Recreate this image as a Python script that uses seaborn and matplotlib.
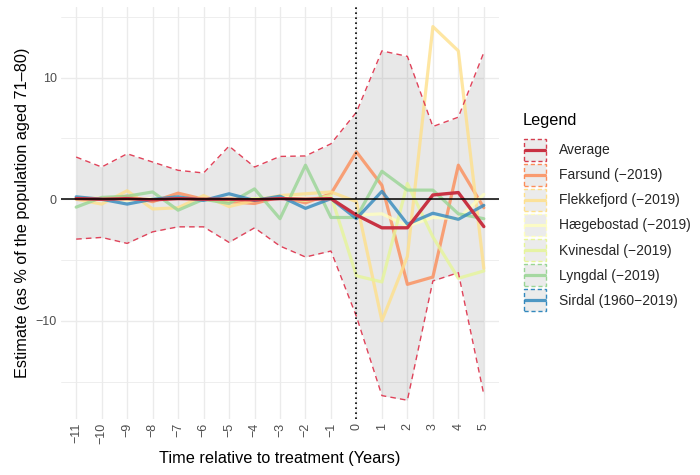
import matplotlib
matplotlib.use("Agg")
import matplotlib.pyplot as plt
from matplotlib.patches import Rectangle
from matplotlib.lines import Line2D
import seaborn as sns
import pandas as pd

# Event-time estimates (% of the population aged 71-80)
years = list(range(-11, 6))
farsund = [0.1, 0.0, 0.25, -0.2, 0.5, 0.0, -0.2, -0.35, 0.2, -0.3, 0.45, 3.9, 1.15, -7.0, -6.4, 2.8, -0.7]
flekkefjord = [0.0, -0.4, 0.7, -0.8, -0.7, 0.3, -0.6, -0.1, 0.3, 0.45, 0.6, -0.2, -10.0, -4.7, 14.2, 12.2, -5.7]
haegebostad = [0.1, 0.05, -0.1, 0.05, 0.1, -0.05, 0.1, 0.0, 0.15, 0.1, 0.0, -1.3, -1.2, -2.2, -1.5, -1.6, 0.4]
kvinesdal = [0.0, 0.1, 0.05, -0.05, 0.1, 0.0, -0.1, 0.05, 0.1, -0.1, 0.3, -6.3, -6.8, 1.3, -3.1, -6.5, -5.9]
lyngdal = [-0.65, 0.15, 0.25, 0.6, -0.9, 0.0, -0.35, 0.85, -1.6, 2.8, -1.5, -1.5, 2.3, 0.75, 0.75, -1.2, -1.6]
sirdal = [0.2, 0.0, -0.4, 0.0, 0.2, -0.1, 0.45, -0.1, 0.25, -0.75, 0.05, -1.6, 0.65, -2.05, -1.15, -1.65, -0.5]
average = [0.05, 0.0, 0.05, -0.05, 0.05, 0.0, 0.0, -0.05, 0.05, 0.0, 0.05, -1.3, -2.35, -2.35, 0.35, 0.55, -2.25]
avg_upper = [3.47, 2.65, 3.74, 3.06, 2.38, 2.16, 4.37, 2.65, 3.52, 3.56, 4.56, 7.16, 12.2, 11.75, 5.98, 6.75, 12.07]
avg_lower = [-3.28, -3.14, -3.63, -2.68, -2.27, -2.27, -3.55, -2.35, -3.85, -4.75, -4.26, -9.64, -16.15, -16.53, -6.72, -6.04, -16.07]

series_names = ["Average", "Farsund (\u22122019)", "Flekkefjord (\u22122019)", "H\u00e6gebostad (\u22122019)",
                "Kvinesdal (\u22122019)", "Lyngdal (\u22122019)", "Sirdal (1960\u22122019)"]
colors = ["#D53E4F", "#FC8D59", "#FEE08B", "#FFFFBF", "#E6F598", "#99D594", "#3288BD"]
y_ticks = [-10, 0, 10]

sns.set_theme(style="white")
plt.rcParams["font.family"] = ["Liberation Sans", "DejaVu Sans"]

fig = plt.figure(figsize=(7.0, 4.75), dpi=100)
ax = fig.add_axes([0.087, 0.118, 0.626, 0.867])

# grid: every year on x, major/minor on y
ax.set_xlim(-11.6, 5.6)
ax.set_ylim(-18.07, 15.8)
ax.set_xticks(years)
ax.set_xticklabels([str(y).replace("-", "\u2212") for y in years], rotation=90, fontsize=9, color="#4D4D4D")
ax.set_yticks(y_ticks)
ax.set_yticklabels([str(y).replace("-", "\u2212") for y in y_ticks], fontsize=9, color="#4D4D4D")
ax.set_yticks([-15, -5, 5, 15], minor=True)
ax.grid(True, which="major", color="#EBEBEB", linewidth=1.0)
ax.grid(True, which="minor", axis="y", color="#EBEBEB", linewidth=0.6)
ax.tick_params(axis="both", which="both", length=0, pad=3)
for s in ax.spines.values():
    s.set_visible(False)
ax.set_axisbelow(True)

# confidence band of the average
ax.fill_between(years, avg_lower, avg_upper, color="#808080", alpha=0.18, linewidth=0, zorder=1)

long = pd.DataFrame({
    "year": years * 6,
    "value": farsund + flekkefjord + haegebostad + kvinesdal + lyngdal + sirdal,
    "name": sum([[n] * len(years) for n in series_names[1:]], []),
})
sns.lineplot(data=long, x="year", y="value", hue="name", hue_order=series_names[1:],
             palette=colors[1:], linewidth=2.3, alpha=0.8, legend=False, ax=ax, zorder=2,
             errorbar=None)

band = pd.DataFrame({"year": years * 2, "value": avg_upper + avg_lower,
                     "side": ["upper"] * len(years) + ["lower"] * len(years)})
sns.lineplot(data=band, x="year", y="value", units="side", estimator=None, color="#E0435A",
             linewidth=1.0, linestyle=(0, (4, 3)), legend=False, ax=ax, zorder=3)

avg_df = pd.DataFrame({"year": years, "value": average})
sns.lineplot(data=avg_df, x="year", y="value", color="#C83243", linewidth=2.4,
             legend=False, ax=ax, zorder=4)

ax.axhline(0, color="black", linewidth=1.1, zorder=5)
ax.axvline(0, color="black", linewidth=1.2, linestyle=(0, (1, 2)), zorder=5)

ax.set_xlabel("Time relative to treatment (Years)", fontsize=11.7, color="black", labelpad=5)
ax.set_ylabel("Estimate (as % of the population aged 71\u201380)", fontsize=11.7, color="black", labelpad=4)


class KeyHandler:
    """Legend key: grey box with dashed coloured outline and a line through the middle."""

    def __init__(self, color, line_color, line_alpha):
        self.color = color
        self.line_color = line_color
        self.line_alpha = line_alpha

    def legend_artist(self, legend, orig_handle, fontsize, handlebox):
        x0, y0 = -handlebox.xdescent, -handlebox.ydescent
        w, h = handlebox.width, handlebox.height
        rect = Rectangle((x0 + 0.5, y0 + 0.5), w - 1, h - 1, facecolor="#EBEBEB", edgecolor=self.color,
                         linestyle=(0, (3, 2)), linewidth=1.0, transform=handlebox.get_transform())
        ln = Line2D([x0 + 1.5, x0 + w - 1.5], [y0 + h / 2, y0 + h / 2], color=self.line_color,
                    linewidth=2.3, alpha=self.line_alpha, transform=handlebox.get_transform())
        handlebox.add_artist(rect)
        handlebox.add_artist(ln)
        return rect


handles = [Line2D([], [], color=c) for c in colors]
hmap = {h: KeyHandler(c, "#C83243" if i == 0 else c, 1.0 if i == 0 else 0.85)
        for i, (h, c) in enumerate(zip(handles, colors))}
fig.text(523 / 700, 1 - 121 / 475, "Legend", fontsize=11.7, ha="left", va="center", color="black")
leg = fig.legend(handles, series_names, loc="upper left", bbox_to_anchor=(523 / 700, 1 - 138 / 475),
                 frameon=False, fontsize=10.0, handler_map=hmap, handlelength=1.72, handleheight=2.22,
                 labelspacing=0.12, handletextpad=0.85, borderaxespad=0, borderpad=0)

fig.savefig("out.png", dpi=100)
